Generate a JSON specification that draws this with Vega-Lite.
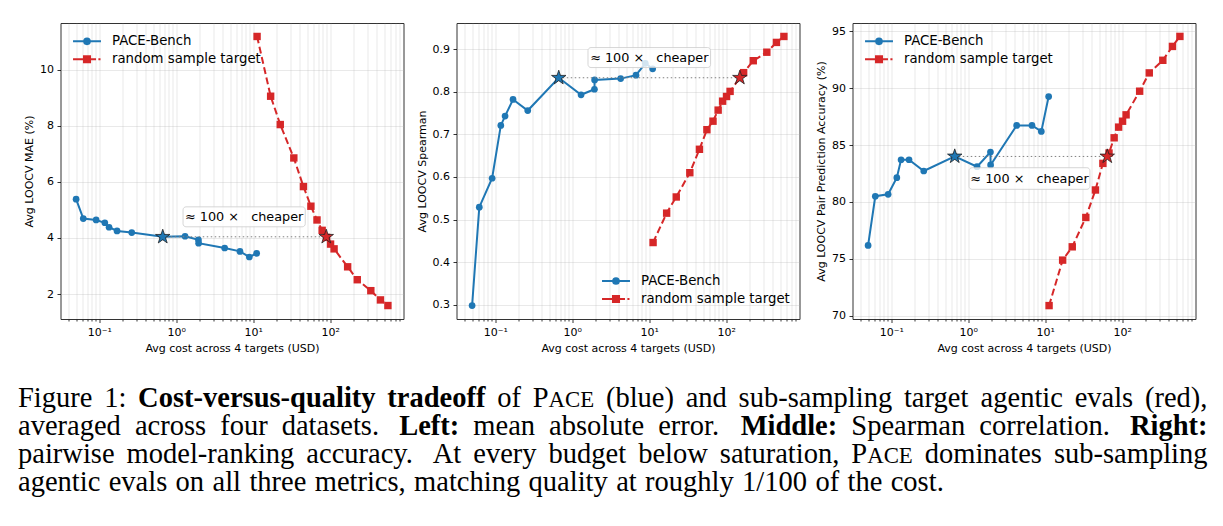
{
  "$schema": "https://vega.github.io/schema/vega-lite/v6.json",
  "background": "white",
  "padding": {"left": 17.5, "top": 22, "right": 2, "bottom": 22.5},
  "config": {
    "view": {"stroke": "#333333", "strokeWidth": 1},
    "font": "DejaVu Sans",
    "axis": {
      "labelFont": "DejaVu Sans", "labelFontSize": 11, "labelColor": "#000000",
      "titleFont": "DejaVu Sans", "titleFontSize": 11, "titleFontWeight": "normal", "titleColor": "#000000",
      "tickColor": "#000000", "tickWidth": 0.8, "domain": false,
      "grid": true, "gridColor": "#b0b0b0", "gridOpacity": 0.35, "gridWidth": 0.8,
      "labelPadding": 3.5, "titlePadding": 5, "labelFlush": false, "labelOverlap": false, "labelBound": false
    }
  },
  "datasets": {
    "pts": [
      {"p":1,"s":"PACE-Bench","cost":0.05,"value":5.38},{"p":1,"s":"PACE-Bench","cost":0.062,"value":4.69},{"p":1,"s":"PACE-Bench","cost":0.091,"value":4.64},{"p":1,"s":"PACE-Bench","cost":0.118,"value":4.54},{"p":1,"s":"PACE-Bench","cost":0.134,"value":4.38},{"p":1,"s":"PACE-Bench","cost":0.17,"value":4.25},{"p":1,"s":"PACE-Bench","cost":0.264,"value":4.19},{"p":1,"s":"PACE-Bench","cost":0.667,"value":4.04},{"p":1,"s":"PACE-Bench","cost":1.3,"value":4.06},{"p":1,"s":"PACE-Bench","cost":1.94,"value":3.93},{"p":1,"s":"PACE-Bench","cost":1.95,"value":3.81},{"p":1,"s":"PACE-Bench","cost":4.25,"value":3.64},{"p":1,"s":"PACE-Bench","cost":6.72,"value":3.52},{"p":1,"s":"PACE-Bench","cost":8.88,"value":3.32},{"p":1,"s":"PACE-Bench","cost":11.06,"value":3.45},
      {"p":2,"s":"PACE-Bench","cost":0.05,"value":0.298},{"p":2,"s":"PACE-Bench","cost":0.062,"value":0.529},{"p":2,"s":"PACE-Bench","cost":0.091,"value":0.597},{"p":2,"s":"PACE-Bench","cost":0.118,"value":0.721},{"p":2,"s":"PACE-Bench","cost":0.134,"value":0.743},{"p":2,"s":"PACE-Bench","cost":0.17,"value":0.782},{"p":2,"s":"PACE-Bench","cost":0.264,"value":0.756},{"p":2,"s":"PACE-Bench","cost":0.667,"value":0.833},{"p":2,"s":"PACE-Bench","cost":1.3,"value":0.793},{"p":2,"s":"PACE-Bench","cost":1.94,"value":0.806},{"p":2,"s":"PACE-Bench","cost":1.95,"value":0.828},{"p":2,"s":"PACE-Bench","cost":4.25,"value":0.831},{"p":2,"s":"PACE-Bench","cost":6.72,"value":0.839},{"p":2,"s":"PACE-Bench","cost":8.88,"value":0.867},{"p":2,"s":"PACE-Bench","cost":11.06,"value":0.854},
      {"p":3,"s":"PACE-Bench","cost":0.05,"value":76.17},{"p":3,"s":"PACE-Bench","cost":0.062,"value":80.5},{"p":3,"s":"PACE-Bench","cost":0.091,"value":80.67},{"p":3,"s":"PACE-Bench","cost":0.118,"value":82.13},{"p":3,"s":"PACE-Bench","cost":0.134,"value":83.71},{"p":3,"s":"PACE-Bench","cost":0.17,"value":83.71},{"p":3,"s":"PACE-Bench","cost":0.264,"value":82.72},{"p":3,"s":"PACE-Bench","cost":0.667,"value":84.0},{"p":3,"s":"PACE-Bench","cost":1.3,"value":83.1},{"p":3,"s":"PACE-Bench","cost":1.94,"value":84.39},{"p":3,"s":"PACE-Bench","cost":1.95,"value":83.25},{"p":3,"s":"PACE-Bench","cost":4.25,"value":86.73},{"p":3,"s":"PACE-Bench","cost":6.72,"value":86.73},{"p":3,"s":"PACE-Bench","cost":8.88,"value":86.2},{"p":3,"s":"PACE-Bench","cost":11.06,"value":89.27},
      {"p":1,"s":"random sample target","cost":11.2,"value":11.18},{"p":1,"s":"random sample target","cost":16.8,"value":9.05},{"p":1,"s":"random sample target","cost":22.4,"value":8.04},{"p":1,"s":"random sample target","cost":33.6,"value":6.85},{"p":1,"s":"random sample target","cost":44.8,"value":5.83},{"p":1,"s":"random sample target","cost":56,"value":5.13},{"p":1,"s":"random sample target","cost":67.2,"value":4.64},{"p":1,"s":"random sample target","cost":78.4,"value":4.27},{"p":1,"s":"random sample target","cost":89.6,"value":4.02},{"p":1,"s":"random sample target","cost":100.8,"value":3.78},{"p":1,"s":"random sample target","cost":112,"value":3.61},{"p":1,"s":"random sample target","cost":168,"value":2.97},{"p":1,"s":"random sample target","cost":224,"value":2.51},{"p":1,"s":"random sample target","cost":336,"value":2.12},{"p":1,"s":"random sample target","cost":448,"value":1.79},{"p":1,"s":"random sample target","cost":560,"value":1.59},
      {"p":2,"s":"random sample target","cost":11.2,"value":0.446},{"p":2,"s":"random sample target","cost":16.8,"value":0.515},{"p":2,"s":"random sample target","cost":22.4,"value":0.553},{"p":2,"s":"random sample target","cost":33.6,"value":0.61},{"p":2,"s":"random sample target","cost":44.8,"value":0.665},{"p":2,"s":"random sample target","cost":56,"value":0.711},{"p":2,"s":"random sample target","cost":67.2,"value":0.731},{"p":2,"s":"random sample target","cost":78.4,"value":0.757},{"p":2,"s":"random sample target","cost":89.6,"value":0.778},{"p":2,"s":"random sample target","cost":100.8,"value":0.789},{"p":2,"s":"random sample target","cost":112,"value":0.801},{"p":2,"s":"random sample target","cost":168,"value":0.845},{"p":2,"s":"random sample target","cost":224,"value":0.873},{"p":2,"s":"random sample target","cost":336,"value":0.893},{"p":2,"s":"random sample target","cost":448,"value":0.916},{"p":2,"s":"random sample target","cost":560,"value":0.93},
      {"p":3,"s":"random sample target","cost":11.2,"value":70.88},{"p":3,"s":"random sample target","cost":16.8,"value":74.88},{"p":3,"s":"random sample target","cost":22.4,"value":76.05},{"p":3,"s":"random sample target","cost":33.6,"value":78.63},{"p":3,"s":"random sample target","cost":44.8,"value":81.05},{"p":3,"s":"random sample target","cost":56,"value":83.39},{"p":3,"s":"random sample target","cost":67.2,"value":84.3},{"p":3,"s":"random sample target","cost":78.4,"value":85.64},{"p":3,"s":"random sample target","cost":89.6,"value":86.58},{"p":3,"s":"random sample target","cost":100.8,"value":87.1},{"p":3,"s":"random sample target","cost":112,"value":87.66},{"p":3,"s":"random sample target","cost":168,"value":89.74},{"p":3,"s":"random sample target","cost":224,"value":91.35},{"p":3,"s":"random sample target","cost":336,"value":92.46},{"p":3,"s":"random sample target","cost":448,"value":93.68},{"p":3,"s":"random sample target","cost":560,"value":94.56}
    ],
    "stars": [
      {"p":1,"s":"PACE-Bench","cost":0.667,"value":4.04},{"p":1,"s":"random sample target","cost":88.7,"value":4.04},
      {"p":2,"s":"PACE-Bench","cost":0.667,"value":0.833},{"p":2,"s":"random sample target","cost":150,"value":0.833},
      {"p":3,"s":"PACE-Bench","cost":0.667,"value":84.0},{"p":3,"s":"random sample target","cost":63.8,"value":84.0}
    ],
    "conn": [
      {"p":1,"cost":0.667,"cost2":88.7,"value":4.04},
      {"p":2,"cost":0.667,"cost2":150,"value":0.833},
      {"p":3,"cost":0.667,"cost2":63.8,"value":84.0}
    ],
    "box": [
      {"p":1,"cost":1.224,"cost2":47.3,"value":5.107,"value2":4.396},
      {"p":2,"cost":1.6,"cost2":62.5,"value":0.9039,"value2":0.857},
      {"p":3,"cost":1.023,"cost2":38.0,"value":83.01,"value2":81.11}
    ],
    "lab": [
      {"p":1,"cost":7.61,"value":4.75,"t":"≈ 100 ×\u00a0\u00a0 cheaper"},
      {"p":2,"cost":10.0,"value":0.8805,"t":"≈ 100 ×\u00a0\u00a0 cheaper"},
      {"p":3,"cost":6.24,"value":82.06,"t":"≈ 100 ×\u00a0\u00a0 cheaper"}
    ],
    "cap": [
      {"line":1,"pos":0,"t":"Figure","st":"r"},
      {"line":1,"pos":0.07243,"t":"1:","st":"r"},
      {"line":1,"pos":0.10095,"t":"Cost-versus-quality","st":"b"},
      {"line":1,"pos":0.31049,"t":"tradeoff","st":"b"},
      {"line":1,"pos":0.40286,"t":"of","st":"r"},
      {"line":1,"pos":0.4327,"t":"P","st":"r"},
      {"line":1,"pos":0.44602,"t":"ACE","st":"s"},
      {"line":1,"pos":0.49424,"t":"(blue)","st":"r"},
      {"line":1,"pos":0.56133,"t":"and","st":"r"},
      {"line":1,"pos":0.6058,"t":"sub-sampling","st":"r"},
      {"line":1,"pos":0.7448,"t":"target","st":"r"},
      {"line":1,"pos":0.80923,"t":"agentic","st":"r"},
      {"line":1,"pos":0.88831,"t":"evals","st":"r"},
      {"line":1,"pos":0.94743,"t":"(red),","st":"r"},
      {"line":2,"pos":0,"t":"averaged","st":"r"},
      {"line":2,"pos":0.09829,"t":"across","st":"r"},
      {"line":2,"pos":0.16997,"t":"four","st":"r"},
      {"line":2,"pos":0.2217,"t":"datasets.","st":"r"},
      {"line":2,"pos":0.32041,"t":"Left:","st":"b"},
      {"line":2,"pos":0.38278,"t":"mean","st":"r"},
      {"line":2,"pos":0.44649,"t":"absolute","st":"r"},
      {"line":2,"pos":0.53815,"t":"error.","st":"r"},
      {"line":2,"pos":0.60755,"t":"Middle:","st":"b"},
      {"line":2,"pos":0.70056,"t":"Spearman","st":"r"},
      {"line":2,"pos":0.80819,"t":"correlation.","st":"r"},
      {"line":2,"pos":0.93483,"t":"Right:","st":"b"},
      {"line":3,"pos":0,"t":"pairwise","st":"r"},
      {"line":3,"pos":0.09127,"t":"model-ranking","st":"r"},
      {"line":3,"pos":0.24243,"t":"accuracy.","st":"r"},
      {"line":3,"pos":0.34869,"t":"At","st":"r"},
      {"line":3,"pos":0.38273,"t":"every","st":"r"},
      {"line":3,"pos":0.44604,"t":"budget","st":"r"},
      {"line":3,"pos":0.52134,"t":"below","st":"r"},
      {"line":3,"pos":0.58999,"t":"saturation,","st":"r"},
      {"line":3,"pos":0.70056,"t":"P","st":"r"},
      {"line":3,"pos":0.71389,"t":"ACE","st":"s"},
      {"line":3,"pos":0.76231,"t":"dominates","st":"r"},
      {"line":3,"pos":0.87089,"t":"sub-sampling","st":"r"},
      {"line":4,"pos":0,"t":"agentic","st":"r"},
      {"line":4,"pos":0.07624,"t":"evals","st":"r"},
      {"line":4,"pos":0.13251,"t":"on","st":"r"},
      {"line":4,"pos":0.16351,"t":"all","st":"r"},
      {"line":4,"pos":0.19452,"t":"three","st":"r"},
      {"line":4,"pos":0.24945,"t":"metrics,","st":"r"},
      {"line":4,"pos":0.33301,"t":"matching","st":"r"},
      {"line":4,"pos":0.42925,"t":"quality","st":"r"},
      {"line":4,"pos":0.50284,"t":"at","st":"r"},
      {"line":4,"pos":0.52718,"t":"roughly","st":"r"},
      {"line":4,"pos":0.60876,"t":"1/100","st":"r"},
      {"line":4,"pos":0.67039,"t":"of","st":"r"},
      {"line":4,"pos":0.69738,"t":"the","st":"r"},
      {"line":4,"pos":0.73369,"t":"cost.","st":"r"}
    ]
  },
  "vconcat": [
    {
      "hconcat": [
        {
          "width": 343, "height": 296,
          "encoding": {
            "x": {"field": "cost", "type": "quantitative", "title": "Avg cost across 4 targets (USD)",
              "scale": {"type": "log", "domain": [0.03136, 892.7], "nice": false},
              "axis": {"values": [0.04,0.05,0.06,0.07,0.08,0.09,0.1,0.2,0.3,0.4,0.5,0.6,0.7,0.8,0.9,1,2,3,4,5,6,7,8,9,10,20,30,40,50,60,70,80,90,100,200,300,400,500,600,700,800],
                "labelExpr": "datum.value==0.1?'10⁻¹':datum.value==1?'10⁰':datum.value==10?'10¹':datum.value==100?'10²':''",
                "tickSize": {"condition": {"test": "datum.value==0.1||datum.value==1||datum.value==10||datum.value==100", "value": 3.5}, "value": 2}}},
            "y": {"field": "value", "type": "quantitative", "title": "Avg LOOCV MAE (%)",
              "scale": {"domain": [1.11, 11.66], "nice": false, "zero": false},
              "axis": {"values": [2,4,6,8,10], "format": "d", "tickSize": 3.5}}
          },
          "layer": [
            {"data": {"name": "pts"}, "transform": [{"filter": "datum.p==1 && datum.s=='PACE-Bench'"}], "mark": {"type": "line", "color": "#1f77b4", "strokeWidth": 2}, "encoding": {}},
            {"data": {"name": "pts"}, "transform": [{"filter": "datum.p==1 && datum.s=='PACE-Bench'"}], "mark": {"type": "point", "shape": "circle", "filled": true, "color": "#1f77b4", "size": 45, "opacity": 1}, "encoding": {}},
            {"data": {"name": "pts"}, "transform": [{"filter": "datum.p==1 && datum.s=='random sample target'"}], "mark": {"type": "line", "color": "#d62728", "strokeWidth": 2, "strokeDash": [7, 3.5]}, "encoding": {}},
            {"data": {"name": "pts"}, "transform": [{"filter": "datum.p==1 && datum.s=='random sample target'"}], "mark": {"type": "point", "shape": "square", "filled": true, "color": "#d62728", "size": 55, "opacity": 1}, "encoding": {}},
            {"data": {"name": "conn"}, "transform": [{"filter": "datum.p==1"}], "mark": {"type": "rule", "color": "#808080", "strokeWidth": 1, "strokeDash": [1.5, 2.5]}, "encoding": {"x2": {"field": "cost2"}}},
            {"data": {"name": "stars"}, "transform": [{"filter": "datum.p==1 && datum.s=='PACE-Bench'"}], "mark": {"type": "point", "shape": "M0,-1L0.2245,-0.309L0.9511,-0.309L0.3633,0.118L0.5878,0.809L0,0.382L-0.5878,0.809L-0.3633,0.118L-0.9511,-0.309L-0.2245,-0.309Z", "size": 230, "filled": true, "fill": "#1f77b4", "stroke": "#222222", "strokeWidth": 0.8, "opacity": 1}, "encoding": {}},
            {"data": {"name": "stars"}, "transform": [{"filter": "datum.p==1 && datum.s=='random sample target'"}], "mark": {"type": "point", "shape": "M0,-1L0.2245,-0.309L0.9511,-0.309L0.3633,0.118L0.5878,0.809L0,0.382L-0.5878,0.809L-0.3633,0.118L-0.9511,-0.309L-0.2245,-0.309Z", "size": 230, "filled": true, "fill": "#d62728", "stroke": "#222222", "strokeWidth": 0.8, "opacity": 1}, "encoding": {}},
            {"data": {"name": "box"}, "transform": [{"filter": "datum.p==1"}], "mark": {"type": "rect", "fill": "white", "fillOpacity": 0.8, "stroke": "#cccccc", "strokeOpacity": 0.8, "strokeWidth": 1, "cornerRadius": 3}, "encoding": {"x2": {"field": "cost2"}, "y2": {"field": "value2"}}},
            {"data": {"name": "lab"}, "transform": [{"filter": "datum.p==1"}], "mark": {"type": "text", "font": "DejaVu Sans", "fontSize": 12.8, "color": "#000000", "align": "center", "baseline": "middle"}, "encoding": {"text": {"field": "t"}}},
            {"data": {"name": "pts"}, "transform": [{"filter": "false"}],
              "mark": {"type": "point", "filled": true, "strokeWidth": 2, "size": 361, "opacity": 1},
              "encoding": {
                "fill": {"field": "s", "type": "nominal", "scale": {"domain": ["PACE-Bench", "random sample target"], "range": ["#1f77b4", "#d62728"]},
                  "legend": {"title": null, "orient": "none", "legendX": 16, "legendY": 7.8, "symbolSize": 361, "symbolStrokeWidth": 2, "labelFont": "DejaVu Sans", "labelFontSize": 13.3, "labelColor": "#000000", "labelOffset": 14.5, "rowPadding": 0, "padding": 0, "symbolOpacity": 1}},
                "stroke": {"field": "s", "type": "nominal", "scale": {"domain": ["PACE-Bench", "random sample target"], "range": ["#1f77b4", "#d62728"]},
                  "legend": {"title": null, "orient": "none", "legendX": 16, "legendY": 7.8, "symbolSize": 361, "symbolStrokeWidth": 2, "labelFont": "DejaVu Sans", "labelFontSize": 13.3, "labelColor": "#000000", "labelOffset": 14.5, "rowPadding": 0, "padding": 0, "symbolOpacity": 1}},
                "shape": {"field": "s", "type": "nominal", "scale": {"domain": ["PACE-Bench", "random sample target"], "range": ["M-1.47,0H1.47M-0.3,0A0.3,0.3,0,1,0,0.3,0A0.3,0.3,0,1,0,-0.3,0Z", "M-1.47,0H-0.4M0.4,0H0.95M1.2,0H1.42M-0.32,-0.32H0.32V0.32H-0.32Z"]},
                  "legend": {"title": null, "orient": "none", "legendX": 16, "legendY": 7.8, "symbolSize": 361, "symbolStrokeWidth": 2, "labelFont": "DejaVu Sans", "labelFontSize": 13.3, "labelColor": "#000000", "labelOffset": 14.5, "rowPadding": 0, "padding": 0, "symbolOpacity": 1}}
              }}
          ]
        },
        {
          "width": 343, "height": 296,
          "encoding": {
            "x": {"field": "cost", "type": "quantitative", "title": "Avg cost across 4 targets (USD)",
              "scale": {"type": "log", "domain": [0.03136, 892.7], "nice": false},
              "axis": {"values": [0.04,0.05,0.06,0.07,0.08,0.09,0.1,0.2,0.3,0.4,0.5,0.6,0.7,0.8,0.9,1,2,3,4,5,6,7,8,9,10,20,30,40,50,60,70,80,90,100,200,300,400,500,600,700,800],
                "labelExpr": "datum.value==0.1?'10⁻¹':datum.value==1?'10⁰':datum.value==10?'10¹':datum.value==100?'10²':''",
                "tickSize": {"condition": {"test": "datum.value==0.1||datum.value==1||datum.value==10||datum.value==100", "value": 3.5}, "value": 2}}},
            "y": {"field": "value", "type": "quantitative", "title": "Avg LOOCV Spearman",
              "scale": {"domain": [0.2664, 0.9616], "nice": false, "zero": false},
              "axis": {"values": [0.3,0.4,0.5,0.6,0.7,0.8,0.9], "format": ".1f", "tickSize": 3.5}}
          },
          "layer": [
            {"data": {"name": "pts"}, "transform": [{"filter": "datum.p==2 && datum.s=='PACE-Bench'"}], "mark": {"type": "line", "color": "#1f77b4", "strokeWidth": 2}, "encoding": {}},
            {"data": {"name": "pts"}, "transform": [{"filter": "datum.p==2 && datum.s=='PACE-Bench'"}], "mark": {"type": "point", "shape": "circle", "filled": true, "color": "#1f77b4", "size": 45, "opacity": 1}, "encoding": {}},
            {"data": {"name": "pts"}, "transform": [{"filter": "datum.p==2 && datum.s=='random sample target'"}], "mark": {"type": "line", "color": "#d62728", "strokeWidth": 2, "strokeDash": [7, 3.5]}, "encoding": {}},
            {"data": {"name": "pts"}, "transform": [{"filter": "datum.p==2 && datum.s=='random sample target'"}], "mark": {"type": "point", "shape": "square", "filled": true, "color": "#d62728", "size": 55, "opacity": 1}, "encoding": {}},
            {"data": {"name": "conn"}, "transform": [{"filter": "datum.p==2"}], "mark": {"type": "rule", "color": "#808080", "strokeWidth": 1, "strokeDash": [1.5, 2.5]}, "encoding": {"x2": {"field": "cost2"}}},
            {"data": {"name": "stars"}, "transform": [{"filter": "datum.p==2 && datum.s=='PACE-Bench'"}], "mark": {"type": "point", "shape": "M0,-1L0.2245,-0.309L0.9511,-0.309L0.3633,0.118L0.5878,0.809L0,0.382L-0.5878,0.809L-0.3633,0.118L-0.9511,-0.309L-0.2245,-0.309Z", "size": 230, "filled": true, "fill": "#1f77b4", "stroke": "#222222", "strokeWidth": 0.8, "opacity": 1}, "encoding": {}},
            {"data": {"name": "stars"}, "transform": [{"filter": "datum.p==2 && datum.s=='random sample target'"}], "mark": {"type": "point", "shape": "M0,-1L0.2245,-0.309L0.9511,-0.309L0.3633,0.118L0.5878,0.809L0,0.382L-0.5878,0.809L-0.3633,0.118L-0.9511,-0.309L-0.2245,-0.309Z", "size": 230, "filled": true, "fill": "#d62728", "stroke": "#222222", "strokeWidth": 0.8, "opacity": 1}, "encoding": {}},
            {"data": {"name": "box"}, "transform": [{"filter": "datum.p==2"}], "mark": {"type": "rect", "fill": "white", "fillOpacity": 0.8, "stroke": "#cccccc", "strokeOpacity": 0.8, "strokeWidth": 1, "cornerRadius": 3}, "encoding": {"x2": {"field": "cost2"}, "y2": {"field": "value2"}}},
            {"data": {"name": "lab"}, "transform": [{"filter": "datum.p==2"}], "mark": {"type": "text", "font": "DejaVu Sans", "fontSize": 12.8, "color": "#000000", "align": "center", "baseline": "middle"}, "encoding": {"text": {"field": "t"}}},
            {"data": {"name": "pts"}, "transform": [{"filter": "false"}],
              "mark": {"type": "point", "filled": true, "strokeWidth": 2, "size": 361, "opacity": 1},
              "encoding": {
                "fill": {"field": "s", "type": "nominal", "scale": {"domain": ["PACE-Bench", "random sample target"], "range": ["#1f77b4", "#d62728"]},
                  "legend": {"title": null, "orient": "none", "legendX": 149, "legendY": 247.5, "symbolSize": 361, "symbolStrokeWidth": 2, "labelFont": "DejaVu Sans", "labelFontSize": 13.3, "labelColor": "#000000", "labelOffset": 14.5, "rowPadding": 0, "padding": 0, "symbolOpacity": 1}},
                "stroke": {"field": "s", "type": "nominal", "scale": {"domain": ["PACE-Bench", "random sample target"], "range": ["#1f77b4", "#d62728"]},
                  "legend": {"title": null, "orient": "none", "legendX": 149, "legendY": 247.5, "symbolSize": 361, "symbolStrokeWidth": 2, "labelFont": "DejaVu Sans", "labelFontSize": 13.3, "labelColor": "#000000", "labelOffset": 14.5, "rowPadding": 0, "padding": 0, "symbolOpacity": 1}},
                "shape": {"field": "s", "type": "nominal", "scale": {"domain": ["PACE-Bench", "random sample target"], "range": ["M-1.47,0H1.47M-0.3,0A0.3,0.3,0,1,0,0.3,0A0.3,0.3,0,1,0,-0.3,0Z", "M-1.47,0H-0.4M0.4,0H0.95M1.2,0H1.42M-0.32,-0.32H0.32V0.32H-0.32Z"]},
                  "legend": {"title": null, "orient": "none", "legendX": 149, "legendY": 247.5, "symbolSize": 361, "symbolStrokeWidth": 2, "labelFont": "DejaVu Sans", "labelFontSize": 13.3, "labelColor": "#000000", "labelOffset": 14.5, "rowPadding": 0, "padding": 0, "symbolOpacity": 1}}
              }}
          ]
        },
        {
          "width": 343, "height": 296,
          "encoding": {
            "x": {"field": "cost", "type": "quantitative", "title": "Avg cost across 4 targets (USD)",
              "scale": {"type": "log", "domain": [0.03136, 892.7], "nice": false},
              "axis": {"values": [0.04,0.05,0.06,0.07,0.08,0.09,0.1,0.2,0.3,0.4,0.5,0.6,0.7,0.8,0.9,1,2,3,4,5,6,7,8,9,10,20,30,40,50,60,70,80,90,100,200,300,400,500,600,700,800],
                "labelExpr": "datum.value==0.1?'10⁻¹':datum.value==1?'10⁰':datum.value==10?'10¹':datum.value==100?'10²':''",
                "tickSize": {"condition": {"test": "datum.value==0.1||datum.value==1||datum.value==10||datum.value==100", "value": 3.5}, "value": 2}}},
            "y": {"field": "value", "type": "quantitative", "title": "Avg LOOCV Pair Prediction Accuracy (%)",
              "scale": {"domain": [69.7, 95.74], "nice": false, "zero": false},
              "axis": {"values": [70,75,80,85,90,95], "format": "d", "tickSize": 3.5}}
          },
          "layer": [
            {"data": {"name": "pts"}, "transform": [{"filter": "datum.p==3 && datum.s=='PACE-Bench'"}], "mark": {"type": "line", "color": "#1f77b4", "strokeWidth": 2}, "encoding": {}},
            {"data": {"name": "pts"}, "transform": [{"filter": "datum.p==3 && datum.s=='PACE-Bench'"}], "mark": {"type": "point", "shape": "circle", "filled": true, "color": "#1f77b4", "size": 45, "opacity": 1}, "encoding": {}},
            {"data": {"name": "pts"}, "transform": [{"filter": "datum.p==3 && datum.s=='random sample target'"}], "mark": {"type": "line", "color": "#d62728", "strokeWidth": 2, "strokeDash": [7, 3.5]}, "encoding": {}},
            {"data": {"name": "pts"}, "transform": [{"filter": "datum.p==3 && datum.s=='random sample target'"}], "mark": {"type": "point", "shape": "square", "filled": true, "color": "#d62728", "size": 55, "opacity": 1}, "encoding": {}},
            {"data": {"name": "conn"}, "transform": [{"filter": "datum.p==3"}], "mark": {"type": "rule", "color": "#808080", "strokeWidth": 1, "strokeDash": [1.5, 2.5]}, "encoding": {"x2": {"field": "cost2"}}},
            {"data": {"name": "stars"}, "transform": [{"filter": "datum.p==3 && datum.s=='PACE-Bench'"}], "mark": {"type": "point", "shape": "M0,-1L0.2245,-0.309L0.9511,-0.309L0.3633,0.118L0.5878,0.809L0,0.382L-0.5878,0.809L-0.3633,0.118L-0.9511,-0.309L-0.2245,-0.309Z", "size": 230, "filled": true, "fill": "#1f77b4", "stroke": "#222222", "strokeWidth": 0.8, "opacity": 1}, "encoding": {}},
            {"data": {"name": "stars"}, "transform": [{"filter": "datum.p==3 && datum.s=='random sample target'"}], "mark": {"type": "point", "shape": "M0,-1L0.2245,-0.309L0.9511,-0.309L0.3633,0.118L0.5878,0.809L0,0.382L-0.5878,0.809L-0.3633,0.118L-0.9511,-0.309L-0.2245,-0.309Z", "size": 230, "filled": true, "fill": "#d62728", "stroke": "#222222", "strokeWidth": 0.8, "opacity": 1}, "encoding": {}},
            {"data": {"name": "box"}, "transform": [{"filter": "datum.p==3"}], "mark": {"type": "rect", "fill": "white", "fillOpacity": 0.8, "stroke": "#cccccc", "strokeOpacity": 0.8, "strokeWidth": 1, "cornerRadius": 3}, "encoding": {"x2": {"field": "cost2"}, "y2": {"field": "value2"}}},
            {"data": {"name": "lab"}, "transform": [{"filter": "datum.p==3"}], "mark": {"type": "text", "font": "DejaVu Sans", "fontSize": 12.8, "color": "#000000", "align": "center", "baseline": "middle"}, "encoding": {"text": {"field": "t"}}},
            {"data": {"name": "pts"}, "transform": [{"filter": "false"}],
              "mark": {"type": "point", "filled": true, "strokeWidth": 2, "size": 361, "opacity": 1},
              "encoding": {
                "fill": {"field": "s", "type": "nominal", "scale": {"domain": ["PACE-Bench", "random sample target"], "range": ["#1f77b4", "#d62728"]},
                  "legend": {"title": null, "orient": "none", "legendX": 16, "legendY": 7.8, "symbolSize": 361, "symbolStrokeWidth": 2, "labelFont": "DejaVu Sans", "labelFontSize": 13.3, "labelColor": "#000000", "labelOffset": 14.5, "rowPadding": 0, "padding": 0, "symbolOpacity": 1}},
                "stroke": {"field": "s", "type": "nominal", "scale": {"domain": ["PACE-Bench", "random sample target"], "range": ["#1f77b4", "#d62728"]},
                  "legend": {"title": null, "orient": "none", "legendX": 16, "legendY": 7.8, "symbolSize": 361, "symbolStrokeWidth": 2, "labelFont": "DejaVu Sans", "labelFontSize": 13.3, "labelColor": "#000000", "labelOffset": 14.5, "rowPadding": 0, "padding": 0, "symbolOpacity": 1}},
                "shape": {"field": "s", "type": "nominal", "scale": {"domain": ["PACE-Bench", "random sample target"], "range": ["M-1.47,0H1.47M-0.3,0A0.3,0.3,0,1,0,0.3,0A0.3,0.3,0,1,0,-0.3,0Z", "M-1.47,0H-0.4M0.4,0H0.95M1.2,0H1.42M-0.32,-0.32H0.32V0.32H-0.32Z"]},
                  "legend": {"title": null, "orient": "none", "legendX": 16, "legendY": 7.8, "symbolSize": 361, "symbolStrokeWidth": 2, "labelFont": "DejaVu Sans", "labelFontSize": 13.3, "labelColor": "#000000", "labelOffset": 14.5, "rowPadding": 0, "padding": 0, "symbolOpacity": 1}}
              }}
          ]
        }
      ],
      "spacing": 53,
      "bounds": "flush",
      "resolve": {"scale": {"fill": "independent", "stroke": "independent", "shape": "independent", "color": "independent"}, "legend": {"fill": "independent", "stroke": "independent", "shape": "independent", "color": "independent"}}
    },
    {
      "width": 1135, "height": 112,
      "view": {"stroke": null},
      "data": {"name": "cap"},
      "encoding": {
        "x": {"field": "pos", "type": "quantitative", "scale": {"domain": [0.035729, 0.989912], "nice": false, "zero": false}, "axis": null},
        "y": {"field": "line", "type": "quantitative", "scale": {"domain": [0.5, 4.5], "reverse": true, "nice": false, "zero": false}, "axis": null},
        "text": {"field": "t"}
      },
      "layer": [
        {"transform": [{"filter": "datum.st=='r'"}], "mark": {"type": "text", "font": "Liberation Serif", "fontSize": 28.5, "align": "left", "baseline": "alphabetic", "color": "#000000"}},
        {"transform": [{"filter": "datum.st=='b'"}], "mark": {"type": "text", "font": "Liberation Serif", "fontSize": 28.5, "fontWeight": "bold", "align": "left", "baseline": "alphabetic", "color": "#000000"}},
        {"transform": [{"filter": "datum.st=='s'"}], "mark": {"type": "text", "font": "Liberation Serif", "fontSize": 22.8, "align": "left", "baseline": "alphabetic", "color": "#000000"}}
      ]
    }
  ],
  "spacing": 369.5,
  "bounds": "flush",
  "resolve": {"scale": {"fill": "independent", "stroke": "independent", "shape": "independent", "color": "independent"}, "legend": {"fill": "independent", "stroke": "independent", "shape": "independent", "color": "independent"}}
}
